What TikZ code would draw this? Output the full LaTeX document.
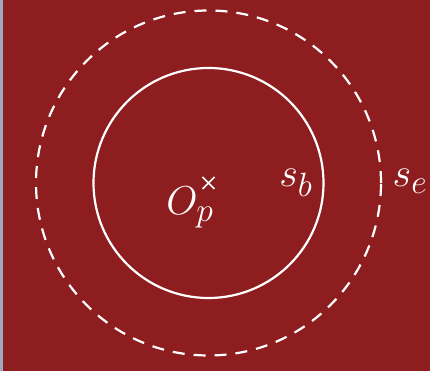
\documentclass[tikz,border=0pt]{standalone}
\definecolor{fond}{RGB}{141,29,31}
\definecolor{bord}{RGB}{160,168,192}
\begin{document}
\begin{tikzpicture}[x=1pt,y=1pt,
		cercle/.style={white, line width=2.2pt},
		etiquette/.style={white, font=\Huge, scale=1.62, inner sep=0pt}]
		% Fond
		\fill[fond] (0,0) rectangle (430,371);
		\fill[bord] (0,0) rectangle (2.5,371);
		\coordinate (Op) at (208.5,188);
		
		% Cercles
		\draw[cercle] (Op) circle[radius=115];
		\draw[cercle, dash pattern=on 12pt off 9pt] (Op) circle[radius=172.5];
		
		% Croix au centre
		\draw[white, line width=1.6pt, shift={(Op)}] (-6,-6) -- (6,6) (-6,6) -- (6,-6);
		
		% Etiquettes
		\node[etiquette, anchor=base] (nomO) at (190,156) {$O_p$};
		\node[etiquette, anchor=base] (nomb) at (296,184) {$s_b$};
		\node[etiquette, anchor=base] (nome) at (410,184) {$s_e$};
	\end{tikzpicture}
\end{document}
